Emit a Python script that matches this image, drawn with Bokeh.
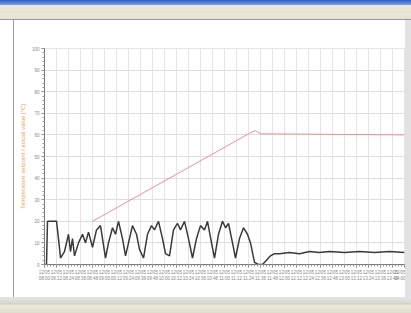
from bokeh.plotting import figure
from bokeh.models import Div, FixedTicker
from bokeh.layouts import column, row
from bokeh.embed import file_html
from bokeh.resources import INLINE

# ---- data (minutes from start) ----
black_x = [0, 2, 3, 6, 12, 14, 16, 20, 24, 26, 28, 30, 34, 38, 41, 44, 48, 52, 56, 58,
           61, 64, 68, 71, 74, 78, 81, 85, 88, 92, 95, 99, 103, 107, 110, 114, 118, 121,
           125, 129, 133, 136, 140, 144, 148, 152, 156, 160, 163, 167, 170, 174, 178, 181,
           184, 188, 191, 195, 199, 203, 206, 210, 214, 218, 222, 226, 230, 235, 245, 255,
           265, 275, 285, 300, 315, 330, 345, 360]
black_y = [0, 0, 20, 20, 20, 12, 3, 6, 14, 6, 12, 4, 10, 14, 10, 15, 8, 16, 18, 12,
           3, 10, 17, 14, 20, 12, 4, 12, 18, 14, 7, 3, 14, 18, 16, 20, 12, 5,
           4, 16, 19, 16, 20, 12, 3, 12, 18, 16, 20, 10, 3, 14, 20, 17,
           19, 10, 3, 12, 17, 14, 10, 1, 0, 0, 2, 4, 5, 5, 5.5, 5,
           6, 5.5, 6, 5.5, 6, 5.5, 6, 5.5]

red_x = [48, 206, 211, 216, 360]
red_y = [20, 61, 62, 60.5, 60]

y_ticks = list(range(0, 101, 10))
x_ticks = list(range(0, 361, 12))
x_tick_labels = ["12/05\n%02d:%02d" % (8 + m // 60, m % 60) for m in x_ticks]

FIG_W = 391
FIG_H = 277
p = figure(width=FIG_W, height=FIG_H, output_backend="svg", toolbar_location=None,
           x_range=(0, 360), y_range=(0, 100))
p.min_border = 0
p.min_border_left = 30
p.min_border_right = 1
p.min_border_top = 28
p.min_border_bottom = 33
p.background_fill_color = "white"
p.border_fill_color = "white"
p.outline_line_color = "#e6e6e6"

p.line(red_x, red_y, line_color="#f09090", line_width=1)
p.line(black_x, black_y, line_color="#3a3a3a", line_width=1.5)

# axes
p.yaxis.ticker = FixedTicker(ticks=y_ticks, minor_ticks=list(range(0, 101, 2)))
p.xaxis.ticker = FixedTicker(ticks=x_ticks, minor_ticks=list(range(0, 361, 3)))
p.xaxis.major_label_overrides = {t: l for t, l in zip(x_ticks, x_tick_labels)}

for ax in (p.xaxis, p.yaxis):
    ax.axis_line_color = "#777777"
    ax.major_tick_line_color = "#777777"
    ax.minor_tick_line_color = "#999999"
    ax.major_tick_out = 3
    ax.minor_tick_out = 2
    ax.major_tick_in = 0
    ax.minor_tick_in = 0
    ax.major_label_text_font_size = "4.5px"
    ax.major_label_text_color = "#888888"
    ax.major_label_standoff = 2

p.yaxis.axis_label = "Temperature setpoint / actual value [°C]"
p.yaxis.axis_label_text_color = "#f0a050"
p.yaxis.axis_label_text_font_size = "6px"
p.yaxis.axis_label_text_font_style = "normal"
p.yaxis.axis_label_standoff = 3

p.xgrid.ticker = FixedTicker(ticks=x_ticks)
p.xgrid.grid_line_color = "#e4e4e4"
p.ygrid.grid_line_color = "#dedede"

top = Div(text="", width=411, height=20, margin=0,
          styles={"background": "linear-gradient(to bottom, #2c5cc8 0px, #7a9fe4 5px, #ece9d8 5px, #e8e5d4 12px, #dedbcb 12px, #ece9d8 13px, #e4e1d0 19px, #9a9a9a 19px, #9a9a9a 20px)"})
left_pad = Div(text="", width=13, height=FIG_H, margin=0, styles={"background": "white"})
left_line = Div(text="", width=1, height=FIG_H, margin=0, styles={"background": "#9a9a9a"})
right_bar = Div(text="", width=6, height=FIG_H, margin=0, styles={"background": "#e2e2e2"})
bottom = Div(text="", width=411, height=16, margin=0,
             styles={"background": "linear-gradient(to bottom, #e4e4e4 0px, #d8d8d8 6px, #cfccbf 7px, #ece9d8 8px, #e0ddd0 16px)"})

layout = column(top, row(left_pad, left_line, p, right_bar, spacing=0), bottom, spacing=0)
open("out.html", "w").write(file_html(layout, INLINE))
